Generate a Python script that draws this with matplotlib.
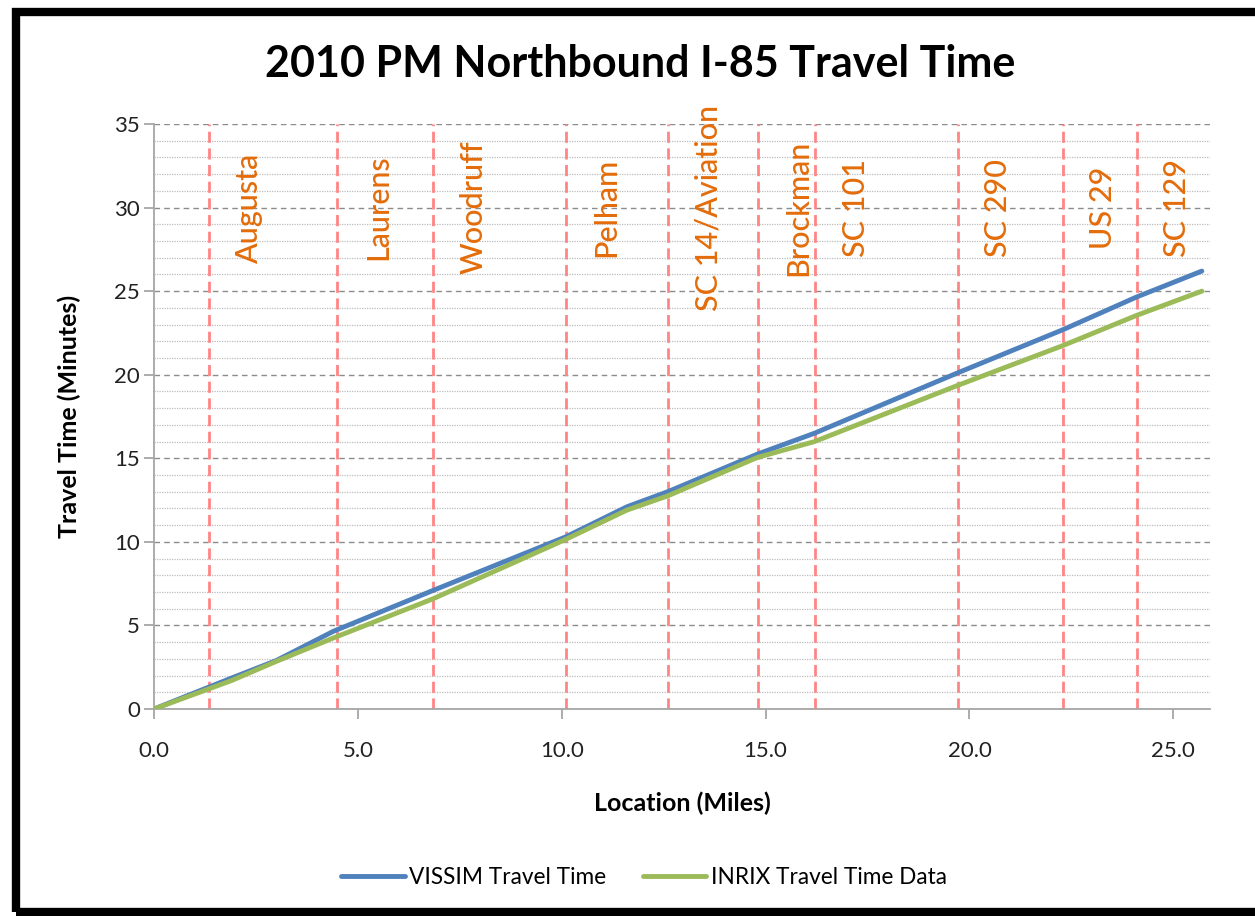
import matplotlib
matplotlib.use("Agg")
import matplotlib.pyplot as plt
from matplotlib.patches import Rectangle
from matplotlib.ticker import MultipleLocator, FormatStrFormatter

# ---- data ----
location_miles = [0, 1.9, 3.0, 4.4, 6.85, 10.1, 11.6, 12.6, 14.8, 16.2, 19.7, 22.3, 24.1, 25.7]
vissim_minutes = [0, 1.85, 2.9, 4.65, 7.1, 10.3, 12.1, 13.0, 15.25, 16.5, 20.1, 22.7, 24.65, 26.2]
inrix_minutes = [0, 1.7, 2.85, 4.25, 6.6, 10.15, 11.9, 12.75, 15.05, 16.0, 19.35, 21.75, 23.55, 25.0]

interchange_names = ["Augusta", "Laurens", "Woodruff", "Pelham", "SC 14/Aviation",
                     "Brockman", "SC 101", "SC 290", "US 29", "SC 129"]
interchange_miles = [1.35, 4.5, 6.85, 10.1, 12.6, 14.82, 16.22, 19.72, 22.3, 24.1]

x_ticks = [0, 5, 10, 15, 20, 25]
y_ticks = [0, 5, 10, 15, 20, 25, 30, 35]

FONT = ["Lato", "DejaVu Sans"]
plt.rcParams["font.family"] = FONT

fig = plt.figure(figsize=(12.55, 9.16), dpi=100)
fig.patch.set_facecolor("white")

# black frame around chart
fig.add_artist(Rectangle((16 / 1255, 4 / 916), 1.2, (912 - 12) / 916,
                         transform=fig.transFigure, fill=False,
                         edgecolor="black", linewidth=6, clip_on=False))

ax = fig.add_axes([154 / 1255, (916 - 709) / 916, (1210 - 154) / 1255, (709 - 124) / 916])
ax.set_xlim(0, 25.9)
ax.set_ylim(0, 35)

# gridlines
ax.yaxis.set_major_locator(MultipleLocator(5))
ax.yaxis.set_minor_locator(MultipleLocator(1))
ax.grid(which="major", axis="y", linestyle=(0, (4, 3)), color="#8c8c8c", linewidth=1.0)
ax.grid(which="minor", axis="y", linestyle=(0, (1, 1)), color="#bdbdbd", linewidth=0.9)
ax.set_axisbelow(True)

# interchange lines
for m in interchange_miles:
    ax.axvline(m, color="#ff8585", linestyle=(0, (4, 2)), linewidth=2.0, zorder=1.5)

for name, m in zip(interchange_names, interchange_miles):
    ax.annotate(name, xy=(m, 30.0), xytext=(29, 0), textcoords="offset points",
                rotation=90, ha="center", va="center", color="#e46c0a",
                fontsize=22, family=FONT, fontweight="medium")

ax.plot(location_miles, vissim_minutes, color="#4f81bd", linewidth=3.5, label="VISSIM Travel Time",
        solid_capstyle="round", zorder=3)
ax.plot(location_miles, inrix_minutes, color="#9bbb59", linewidth=3.5, label="INRIX Travel Time Data",
        solid_capstyle="round", zorder=3)

ax.set_xticks(x_ticks)
ax.xaxis.set_major_formatter(FormatStrFormatter("%.1f"))
ax.set_yticks(y_ticks)

for s in ["top", "right"]:
    ax.spines[s].set_visible(False)
for s in ["left", "bottom"]:
    ax.spines[s].set_color("#a6a6a6")
    ax.spines[s].set_linewidth(1.3)
ax.tick_params(axis="both", which="major", color="#a6a6a6", length=7, width=1.3,
               labelsize=16, labelcolor="#222222")
ax.tick_params(axis="y", which="minor", length=0)
ax.tick_params(axis="x", pad=16)
ax.tick_params(axis="y", pad=3)

ax.set_xlabel("Location (Miles)", fontsize=18, fontweight="bold", labelpad=22)
ax.set_ylabel("Travel Time (Minutes)", fontsize=18, fontweight="bold", labelpad=24)

fig.text(640 / 1255, 1 - 64 / 916, "2010 PM Northbound I-85 Travel Time",
         ha="center", va="center", fontsize=31, fontweight="bold")

fig.legend(loc="center", bbox_to_anchor=(644 / 1255, 1 - 877 / 916), ncol=2, frameon=False,
           fontsize=16.3, handlelength=2.8, columnspacing=1.6, handletextpad=0.2)

fig.savefig("out.png", dpi=100)
